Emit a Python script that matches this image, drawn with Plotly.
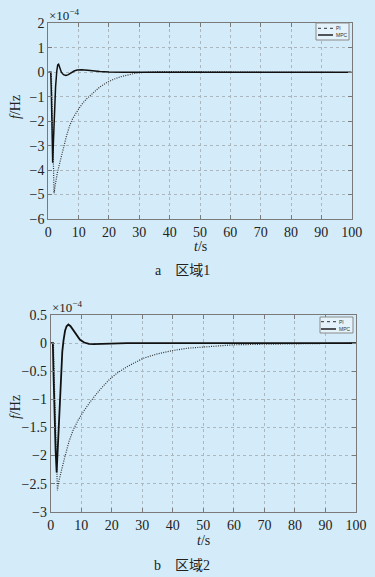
import plotly.graph_objects as go

# ---------------- data (values in units of 1e-4 Hz) ----------------
t1_mpc = [0, 0.8, 1.0, 1.2, 1.45, 1.7, 2.0, 2.4, 2.8, 3.1, 3.4, 3.8, 4.3, 5.0, 5.8, 6.6, 7.5, 8.5, 9.5, 11, 13, 15, 17, 20, 25, 100]
v1_mpc = [0, 0, -0.8, -2.2, -3.7, -2.8, -1.6, -0.6, 0.05, 0.3, 0.33, 0.2, 0.0, -0.1, -0.13, -0.1, -0.02, 0.05, 0.09, 0.1, 0.08, 0.05, 0.03, 0.01, 0, 0]

t1_pi = [0, 1.0, 1.3, 1.6, 1.9, 2.3, 3.0, 3.9, 5, 6, 7, 8, 9.4, 11, 12.7, 15, 17, 19, 21.5, 24, 26, 28, 30, 33, 37, 42, 50, 60, 70, 94]
v1_pi = [0, 0, -1.5, -3.3, -4.95, -4.6, -4.1, -3.65, -3.05, -2.6, -2.2, -1.9, -1.62, -1.32, -1.08, -0.8, -0.6, -0.44, -0.29, -0.18, -0.11, -0.06, -0.02, 0.01, 0.03, 0.03, 0.02, 0.01, 0.0, 0]

t2_mpc = [0, 0.7, 0.9, 1.2, 1.6, 1.95, 2.3, 2.8, 3.3, 3.8, 4.2, 4.7, 5.2, 5.8, 6.5, 7.5, 8.5, 9.6, 11, 12.5, 14, 17, 20, 25, 100]
v2_mpc = [0, 0, -0.5, -1.2, -1.9, -2.3, -1.9, -1.2, -0.6, -0.15, 0.05, 0.22, 0.3, 0.33, 0.3, 0.22, 0.13, 0.06, 0.01, -0.015, -0.02, -0.015, -0.01, 0, 0]

t2_pi = [0, 0.9, 1.3, 1.7, 2.2, 2.7, 3.3, 4.1, 5, 6, 7.4, 9, 10.7, 13, 16.1, 19, 21.6, 25, 30.3, 35, 40.2, 45, 50, 55, 60, 70, 80, 90, 100]
v2_pi = [0, 0, -0.9, -1.9, -2.62, -2.45, -2.3, -2.14, -1.95, -1.75, -1.54, -1.37, -1.22, -1.04, -0.83, -0.66, -0.54, -0.42, -0.27, -0.19, -0.13, -0.09, -0.07, -0.05, -0.03, -0.02, -0.01, -0.005, 0]

x_ticks = [0, 10, 20, 30, 40, 50, 60, 70, 80, 90, 100]
y1_ticks = [-6, -5, -4, -3, -2, -1, 0, 1, 2]
y2_ticks = [-3, -2.5, -2, -1.5, -1, -0.5, 0, 0.5]
series_names = ["PI", "MPC"]

W, H = 375, 577
BG = "#d4ecf9"
FRAME = "#7a7a7a"
GRID = "#aab7bf"
SERIF = "'Liberation Serif', 'Times New Roman', Times, serif"
PI_DASH = "1px,1.3px"
PI_COLOR = "#333333"
MPC_COLOR = "#111111"

fig = go.Figure()

fig.add_trace(go.Scatter(x=t1_pi, y=v1_pi, name=series_names[0], mode="lines",
                         line=dict(color=PI_COLOR, width=1.2, dash=PI_DASH),
                         xaxis="x", yaxis="y"))
fig.add_trace(go.Scatter(x=t1_mpc, y=v1_mpc, name=series_names[1], mode="lines",
                         line=dict(color=MPC_COLOR, width=1.5),
                         xaxis="x", yaxis="y"))
fig.add_trace(go.Scatter(x=t2_pi, y=v2_pi, name=series_names[0], mode="lines",
                         line=dict(color=PI_COLOR, width=1.2, dash=PI_DASH),
                         xaxis="x2", yaxis="y2"))
fig.add_trace(go.Scatter(x=t2_mpc, y=v2_mpc, name=series_names[1], mode="lines",
                         line=dict(color=MPC_COLOR, width=1.8),
                         xaxis="x2", yaxis="y2"))

def px_x(p):
    return p / W

def px_y(p):
    return 1 - p / H

axis_common = dict(showline=True, linecolor=FRAME, linewidth=1, mirror="ticks",
                   ticks="inside", ticklen=4, tickcolor=FRAME, automargin=False,
                   showgrid=True, gridcolor=GRID, griddash="dot", gridwidth=1,
                   zeroline=False, tickfont=dict(family=SERIF, size=14, color="#222222"))

fig.update_layout(
    width=W, height=H,
    margin=dict(l=0, r=0, t=0, b=0, autoexpand=False),
    paper_bgcolor=BG, plot_bgcolor=BG,
    showlegend=False,
    font=dict(family=SERIF),
    xaxis=dict(domain=[px_x(48.3), px_x(351.7)], range=[0, 100], tickvals=x_ticks,
               anchor="y", **axis_common),
    yaxis=dict(domain=[px_y(219), px_y(23.3)], range=[-6, 2], tickvals=y1_ticks,
               anchor="x", **axis_common),
    xaxis2=dict(domain=[px_x(50.7), px_x(356)], range=[0, 100], tickvals=x_ticks,
                anchor="y2", **axis_common),
    yaxis2=dict(domain=[px_y(511.7), px_y(315)], range=[-3, 0.5], tickvals=y2_ticks,
                anchor="x2", **axis_common),
)

# ---- small MATLAB-style legend boxes (decoration, paper coords) ----
shapes = []
annotations = []
leg_font = dict(family="'Liberation Sans', Arial, sans-serif", size=5, color="#333333")
def add_legend(x0, y0, x1, y1, row_y, line_x0, line_x1):
    shapes.append(dict(type="rect", xref="paper", yref="paper",
                       x0=px_x(x0), x1=px_x(x1), y0=px_y(y1), y1=px_y(y0),
                       fillcolor="#e4f2fb", line=dict(color="#8a8a8a", width=1)))
    styles = [dict(color=PI_COLOR, width=1, dash="dot"), dict(color=MPC_COLOR, width=1.4)]
    for name, ry, st in zip(series_names, row_y, styles):
        shapes.append(dict(type="line", xref="paper", yref="paper",
                           x0=px_x(line_x0), x1=px_x(line_x1), y0=px_y(ry), y1=px_y(ry),
                           line=st))
        annotations.append(dict(text=name, x=px_x(line_x1 + 1), y=px_y(ry),
                                xanchor="left", yanchor="middle", font=leg_font))

add_legend(316, 23, 349, 40, [28.3, 35], 318, 333)
add_legend(320, 317, 353, 333, [321.7, 329], 321, 336)

ann_font = dict(family=SERIF, size=14, color="#222222")
cjk_font = dict(family="'Noto Sans CJK SC', sans-serif", size=14, color="#222222")
annotations += [
    dict(text="×10<sup>−4</sup>", x=px_x(47), y=px_y(15), xanchor="left", yanchor="middle",
         font=dict(family=SERIF, size=13, color="#222222")),
    dict(text="×10<sup>−4</sup>", x=px_x(50), y=px_y(307), xanchor="left", yanchor="middle",
         font=dict(family=SERIF, size=13, color="#222222")),
    dict(text="<i>f</i>/Hz", x=px_x(15), y=px_y(107), textangle=-90, font=ann_font,
         xanchor="center", yanchor="middle"),
    dict(text="<i>f</i>/Hz", x=px_x(15), y=px_y(407), textangle=-90, font=ann_font,
         xanchor="center", yanchor="middle"),
    dict(text="<i>t</i>/s", x=px_x(200), y=px_y(247), font=ann_font,
         xanchor="center", yanchor="middle"),
    dict(text="<i>t</i>/s", x=px_x(203), y=px_y(540), font=ann_font,
         xanchor="center", yanchor="middle"),
    dict(text="<span style='font-family:Liberation Serif'>a</span>　区域<span style='font-family:Liberation Serif'>1</span>",
         x=px_x(182), y=px_y(269), font=cjk_font, xanchor="center", yanchor="middle"),
    dict(text="<span style='font-family:Liberation Serif'>b</span>　区域<span style='font-family:Liberation Serif'>2</span>",
         x=px_x(182), y=px_y(564), font=cjk_font, xanchor="center", yanchor="middle"),
]
for a in annotations:
    a.update(xref="paper", yref="paper", showarrow=False)
fig.update_layout(annotations=annotations, shapes=shapes)

fig.write_html("out.html",
               config={"displayModeBar": False},
               post_script="document.body.style.margin='0';document.body.style.padding='0';"
                           "document.body.style.overflow='hidden';"
                           "document.body.style.background='" + BG + "';")
